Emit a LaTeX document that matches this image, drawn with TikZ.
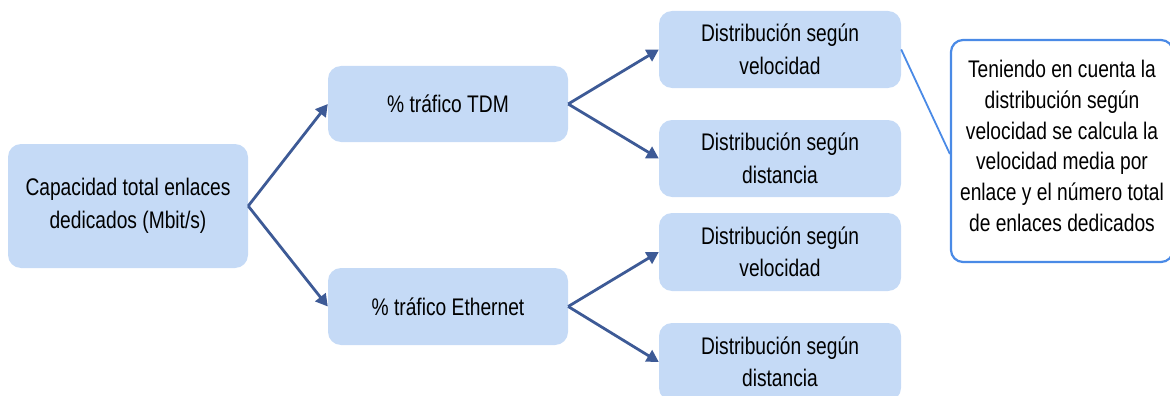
\documentclass[tikz,border=0pt]{standalone}
\usepackage{fontspec}
\setmainfont{Liberation Sans}[FakeStretch=0.8]
\usetikzlibrary{arrows.meta}
\definecolor{boxfill}{HTML}{C5DAF6}
\definecolor{arrowblue}{HTML}{3D5A96}
\definecolor{callblue}{HTML}{4A8AE6}
\tikzset{
  box/.style={fill=boxfill, draw=none, rounded corners=13pt, align=center,
    font=\fontsize{24}{32.5}\selectfont, inner sep=0pt},
  conn/.style={draw=arrowblue, line width=2.8pt, -{Triangle[length=12pt,width=13pt]}},
}
\begin{document}
\begin{tikzpicture}[x=1pt,y=-1pt]
\useasboundingbox (0,0) rectangle (1170,396);
\node[box, minimum width=240pt, minimum height=124pt] (cap) at (128,206) {Capacidad total enlaces\\dedicados (Mbit/s)};
\node[box, minimum width=240pt, minimum height=76pt] (tdm) at (448,104) {\% tráfico TDM};
\node[box, minimum width=240pt, minimum height=77pt] (eth) at (448,306.5) {\% tráfico Ethernet};
\node[box, minimum width=242pt, minimum height=77pt] (d1) at (780,49.5) {Distribución según\\velocidad};
\node[box, minimum width=242pt, minimum height=77pt] (d2) at (780,158.5) {Distribución según\\distancia};
\node[box, minimum width=242pt, minimum height=78pt] (d3) at (780,252) {Distribución según\\velocidad};
\node[box, minimum width=242pt, minimum height=78pt] (d4) at (780,362) {Distribución según\\distancia};
\node[draw=callblue, line width=2.2pt, fill=white, rounded corners=12pt,
  minimum width=222pt, minimum height=222pt, inner sep=0pt,
  label={[align=center, font=\fontsize{24}{30.8}\selectfont, yshift=5pt]center:{Teniendo en cuenta la\\distribución según\\velocidad se calcula la\\velocidad media por\\enlace y el número total\\de enlaces dedicados}}] (call) at (1062,151) {};
\draw[conn] (cap.east) -- (tdm.west);
\draw[conn] (cap.east) -- (eth.west);
\draw[conn] (tdm.east) -- (d1.west);
\draw[conn] (tdm.east) -- (d2.west);
\draw[conn] (eth.east) -- (d3.west);
\draw[conn] (eth.east) -- (d4.west);
\draw[callblue, line width=1.8pt] (d1.east) -- ([yshift=-3pt]call.west);
\end{tikzpicture}
\end{document}
